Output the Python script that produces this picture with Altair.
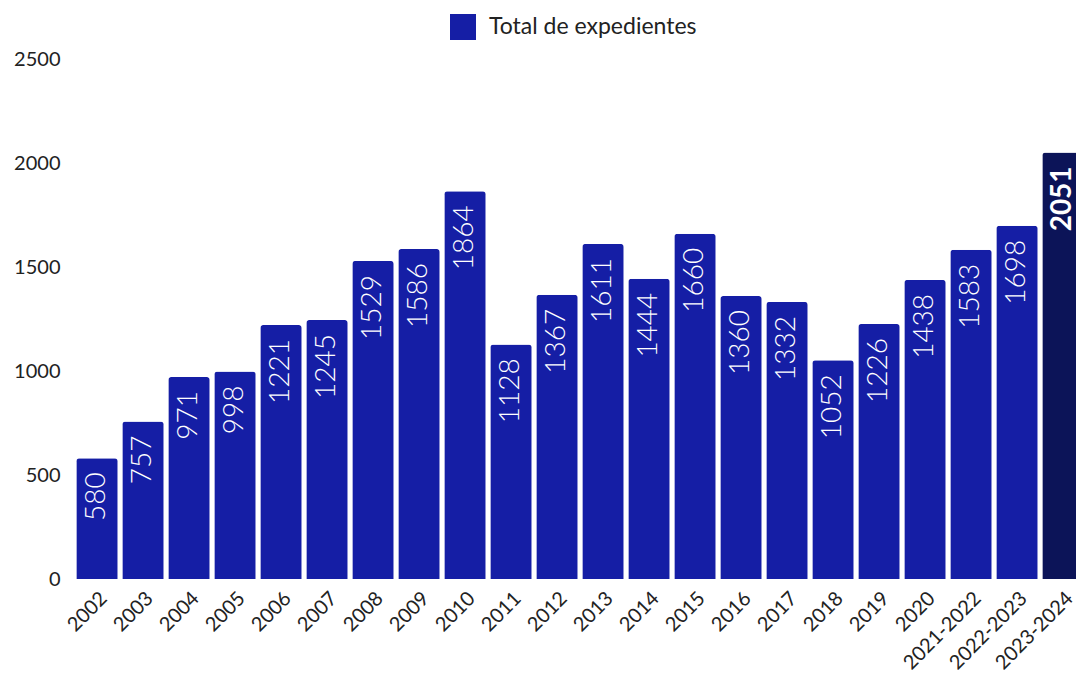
import altair as alt
import pandas as pd

years = ["2002", "2003", "2004", "2005", "2006", "2007", "2008", "2009", "2010", "2011",
         "2012", "2013", "2014", "2015", "2016", "2017", "2018", "2019", "2020",
         "2021-2022", "2022-2023", "2023-2024"]
values = [580, 757, 971, 998, 1221, 1245, 1529, 1586, 1864, 1128,
          1367, 1611, 1444, 1660, 1360, 1332, 1052, 1226, 1438,
          1583, 1698, 2051]
series_name = "Total de expedientes"
highlight = "2023-2024"

df = pd.DataFrame({"year": years, "value": values})
df["serie"] = series_name

FONT = "Lato"
BAR = "#151ea5"
DARK = "#0c1458"

x = alt.X("year:N", sort=years, title=None,
          scale=alt.Scale(range=[0, 1012], paddingInner=0.1, paddingOuter=0.05),
          axis=alt.Axis(labelAngle=-45, labelFontSize=20, labelColor="#222222",
                        labelFont=FONT, ticks=False, domain=False, labelPadding=9,
                        labelAlign="right", labelBaseline="top"))
y = alt.Y("value:Q", title=None,
          scale=alt.Scale(domain=[0, 2500], nice=False),
          axis=alt.Axis(values=[0, 500, 1000, 1500, 2000, 2500], grid=False,
                        format="d", ticks=False, domain=False, labelFontSize=20,
                        labelColor="#222222", labelFont=FONT, labelPadding=14))

base = alt.Chart(df)

bars = base.mark_bar(cornerRadiusTopLeft=3, cornerRadiusTopRight=3, clip=False).encode(
    x=x, y=y,
    color=alt.condition(
        f"datum.year === '{highlight}'",
        alt.value(DARK),
        alt.Color("serie:N", scale=alt.Scale(domain=[series_name], range=[BAR]),
                  legend=alt.Legend(title=None, orient="none", legendX=376, legendY=-45,
                                    symbolType="square", symbolSize=676,
                                    symbolStrokeWidth=0, labelFontSize=23,
                                    labelFont=FONT, labelColor="#222222",
                                    labelLimit=400, labelOffset=13,
                                    symbolOpacity=1)),
    ),
)

labels = base.transform_filter(f"datum.year !== '{highlight}'").mark_text(
    angle=270, align="right", baseline="middle", dx=-14, color="white",
    fontSize=28, font=FONT, fontWeight=300, clip=False
).encode(x=x, y=y, text="value:Q")

labels_bold = base.transform_filter(f"datum.year === '{highlight}'").mark_text(
    angle=270, align="right", baseline="middle", dx=-14, color="white",
    fontSize=28, font=FONT, fontWeight="bold", clip=False
).encode(x=x, y=y, text="value:Q")

chart = alt.layer(bars, labels, labels_bold).properties(
    width=1002, height=520,
    autosize=alt.AutoSizeParams(type="none"),
    padding={"left": 74, "top": 59, "right": 0, "bottom": 100},
).configure_view(stroke=None)

chart.save("out.html", embed_options={"renderer": "svg", "actions": False})
